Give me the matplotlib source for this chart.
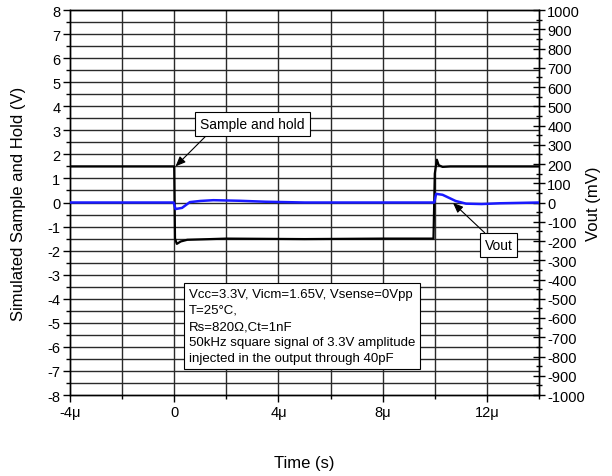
import matplotlib
matplotlib.use("Agg")
import matplotlib.pyplot as plt
from matplotlib.ticker import FixedLocator, MultipleLocator

plt.rcParams['font.family'] = ['Liberation Sans', 'DejaVu Sans']
plt.rcParams['axes.unicode_minus'] = False

# Sample and hold (V), time in microseconds
sh_t = [-4.0, -2.0, -0.02, 0.0, 0.03, 0.1, 0.25, 0.5, 2.0, 5.0, 8.0, 9.95, 10.0, 10.08, 10.15, 10.3, 10.6, 12.0, 14.0]
sh_v = [1.5, 1.5, 1.5, 1.5, -1.5, -1.72, -1.62, -1.55, -1.5, -1.52, -1.5, -1.5, 1.2, 1.78, 1.55, 1.48, 1.5, 1.5, 1.5]

# Vout (mV)
vo_t = [-4.0, -1.0, -0.02, 0.05, 0.3, 0.6, 1.0, 1.5, 2.5, 3.5, 5.0, 8.0, 9.98, 10.05, 10.3, 10.8, 11.2, 11.8, 12.5, 14.0]
vo_v = [0.0, 0.0, 0.0, -34.0, -28.0, 2.0, 8.0, 12.0, 9.0, 4.0, 0.0, 0.0, 0.0, 45.0, 40.0, 8.0, -6.0, -8.0, -4.0, 0.0]

x_major = [-4, 0, 4, 8, 12]
x_labels = ['-4\u03bc', '0', '4\u03bc', '8\u03bc', '12\u03bc']

info_lines = ["Vcc=3.3V, Vicm=1.65V, Vsense=0Vpp",
              "T=25\u00b0C,",
              "Rs=820\u03a9,Ct=1nF",
              "50kHz square signal of 3.3V amplitude",
              "injected in the output through 40pF"]

fig = plt.figure(figsize=(6.12, 4.77), dpi=100)
ax = fig.add_axes([70/612, 1-396/477, 469/612, 385/477])
ax2 = ax.twinx()

ax.set_xlim(-4, 14)
ax.set_ylim(-8, 8)
ax2.set_ylim(-1000, 1000)

# grid
for xv in range(-2, 14, 2):
    ax.axvline(xv, color='#2a2a2a', lw=1.0, zorder=1)
for k in range(-15, 16):
    yv = k * 0.5
    ax.axhline(yv, color='#2a2a2a', lw=1.0, zorder=1)

ax.plot(sh_t, sh_v, color='black', lw=1.6, zorder=3)
ax2.plot(vo_t, vo_v, color='#1a1aff', lw=1.8, zorder=3)

ax.xaxis.set_major_locator(FixedLocator(x_major))
ax.set_xticklabels(x_labels)
ax.xaxis.set_minor_locator(FixedLocator([-2, 2, 6, 10, 14]))
ax.yaxis.set_major_locator(MultipleLocator(1))
ax.yaxis.set_minor_locator(MultipleLocator(0.5))
ax2.yaxis.set_major_locator(MultipleLocator(100))
ax2.yaxis.set_minor_locator(MultipleLocator(50))

fs = 10.5
ax.tick_params(axis='both', which='major', direction='out', length=5, width=1, labelsize=fs, pad=2)
ax.tick_params(axis='both', which='minor', direction='out', length=3, width=1)
ax2.tick_params(axis='y', which='major', direction='inout', length=8, width=1, labelsize=fs, pad=2)
ax2.tick_params(axis='y', which='minor', direction='inout', length=5, width=1)

for a in (ax, ax2):
    for s in a.spines.values():
        s.set_linewidth(1.0)

ax.set_ylabel('Simulated Sample and Hold (V)', fontsize=12, labelpad=15)
ax2.set_ylabel('Vout (mV)', fontsize=12, labelpad=1)
ax.set_xlabel('Time (s)', fontsize=12, labelpad=26)

afs = 10
ax2.annotate('Sample and hold', xy=(0.05, 1.5 * 125), xytext=(3.0, 3.25 * 125),
             fontsize=afs, ha='center', va='center', zorder=5,
             bbox=dict(boxstyle='square,pad=0.35', fc='white', ec='black', lw=0.8),
             arrowprops=dict(arrowstyle='-|>,head_length=0.6,head_width=0.25', color='black', lw=0.8,
                             relpos=(0.1, 0.0), shrinkA=0, shrinkB=0))
ax2.annotate('Vout', xy=(10.7, -2), xytext=(12.45, -221),
             fontsize=afs, ha='center', va='center', zorder=5,
             bbox=dict(boxstyle='square,pad=0.35', fc='white', ec='black', lw=0.8),
             arrowprops=dict(arrowstyle='-|>,head_length=0.6,head_width=0.25', color='black', lw=0.8,
                             relpos=(0.2, 1.0), shrinkA=0, shrinkB=0))

ax2.text(0.55, -3.55 * 125, "\n".join(info_lines), fontsize=9.5, ha='left', va='top',
         linespacing=1.45, zorder=5,
         bbox=dict(boxstyle='square,pad=0.35', fc='white', ec='black', lw=0.8))

fig.savefig('out.png', dpi=100)
